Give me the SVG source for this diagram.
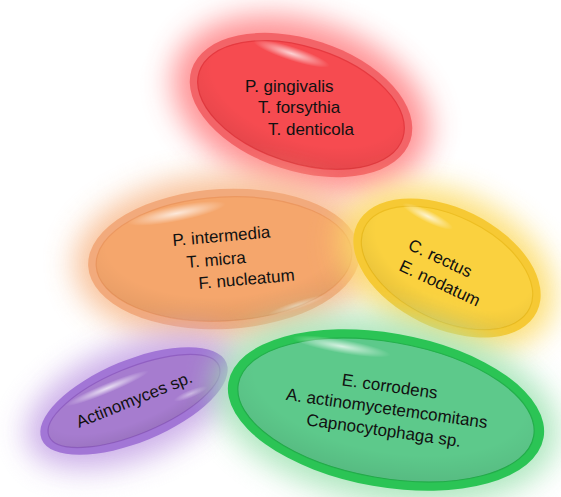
<svg xmlns="http://www.w3.org/2000/svg" width="561" height="497" viewBox="0 0 561 497">
<defs>
<filter id="glow" x="-60%" y="-60%" width="220%" height="220%"><feGaussianBlur stdDeviation="15"/></filter>
<radialGradient id="hl"><stop offset="0" stop-color="#fff" stop-opacity="0.75"/><stop offset="1" stop-color="#fff" stop-opacity="0"/></radialGradient>
<radialGradient id="shade" cx="0.5" cy="0.35" r="0.65"><stop offset="0.7" stop-color="#000" stop-opacity="0"/><stop offset="1" stop-color="#000" stop-opacity="0.07"/></radialGradient>
</defs>
<style>
.t{font-family:"Liberation Sans",Arial,sans-serif;font-size:17px;fill:#111}
.ln{stroke-width:1.2}
</style>
<rect width="561" height="497" fill="#fff"/>

<g id="node-red">
<g transform="translate(301,105) rotate(18)">
<ellipse rx="132" ry="84" fill="#FF8588" filter="url(#glow)" opacity="0.9"/>
<ellipse rx="115" ry="66" fill="#F36468"/>
<ellipse rx="107" ry="58" fill="#F64B50" stroke="#E63A40" class="ln"/>
<ellipse rx="107" ry="58" fill="url(#shade)"/>
<ellipse cx="-25" cy="-46" rx="40" ry="7" fill="url(#hl)"/>
</g>
<text class="t" x="245" y="92">P. gingivalis</text>
<text class="t" x="258" y="113">T. forsythia</text>
<text class="t" x="268" y="135">T. denticola</text>
</g>

<g id="node-orange">
<g transform="translate(224,259) rotate(-3)">
<ellipse rx="150" ry="84" fill="#F8BC90" filter="url(#glow)" opacity="0.9"/>
<ellipse rx="136" ry="70" fill="#F2AA7C"/>
<ellipse rx="128" ry="62" fill="#F5A66C" stroke="#EC9860" class="ln"/>
<ellipse rx="128" ry="62" fill="url(#shade)"/>
<ellipse cx="-45" cy="-48" rx="50" ry="8" fill="url(#hl)" transform="rotate(-8,-45,-48)"/>
<ellipse cx="70" cy="50" rx="30" ry="4" fill="url(#hl)" opacity="0.6" transform="rotate(-15,70,50)"/>
</g>
<text class="t" x="173" y="246" transform="rotate(-5,173,246)">P. intermedia</text>
<text class="t" x="187" y="268" transform="rotate(-5,187,268)">T. micra</text>
<text class="t" x="199" y="289" transform="rotate(-5,199,289)">F. nucleatum</text>
</g>

<g id="node-yellow">
<g transform="translate(447,268) rotate(26)">
<ellipse rx="114" ry="74" fill="#FCDC6A" filter="url(#glow)" opacity="0.9"/>
<ellipse rx="100" ry="60" fill="#F6C934"/>
<ellipse rx="92" ry="52" fill="#FAD13F" stroke="#EDBE22" class="ln"/>
<ellipse rx="92" ry="52" fill="url(#shade)"/>
<ellipse cx="-40" cy="-38" rx="28" ry="6" fill="url(#hl)"/>
</g>
<text class="t" x="407" y="249" transform="rotate(25,407,249)">C. rectus</text>
<text class="t" x="398" y="270" transform="rotate(25,398,270)">E. nodatum</text>
</g>

<g id="node-purple">
<g transform="translate(134,401) rotate(-22.5)">
<ellipse rx="114" ry="56" fill="#C6A6E6" filter="url(#glow)" opacity="0.9"/>
<ellipse rx="100" ry="41" fill="#A276D6"/>
<ellipse rx="92" ry="33" fill="#A67CCF" stroke="#905FC2" class="ln"/>
<ellipse rx="92" ry="33" fill="url(#shade)"/>
<ellipse cx="-20" cy="-22" rx="45" ry="5" fill="url(#hl)"/>
<ellipse cx="55" cy="15" rx="18" ry="4" fill="url(#hl)" opacity="0.6"/>
</g>
<text class="t" x="79" y="428" transform="rotate(-22,79,428)">Actinomyces sp.</text>
</g>

<g id="node-green">
<g transform="translate(386,410) rotate(10)">
<ellipse rx="174" ry="92" fill="#A6E4B8" filter="url(#glow)" opacity="0.9"/>
<ellipse rx="160" ry="77" fill="#2BC455"/>
<ellipse rx="150" ry="68" fill="#5DC98B" stroke="#23B04B" class="ln"/>
<ellipse rx="150" ry="68" fill="url(#shade)"/>
<ellipse cx="-55" cy="-55" rx="50" ry="7" fill="url(#hl)"/>
</g>
<text class="t" x="389" y="392" text-anchor="middle" transform="rotate(8,389,392)">E. corrodens</text>
<text class="t" x="386" y="414" text-anchor="middle" transform="rotate(8,386,414)">A. actinomycetemcomitans</text>
<text class="t" x="383" y="436" text-anchor="middle" transform="rotate(8,383,436)">Capnocytophaga sp.</text>
</g>

<g id="connectors"></g>
</svg>
